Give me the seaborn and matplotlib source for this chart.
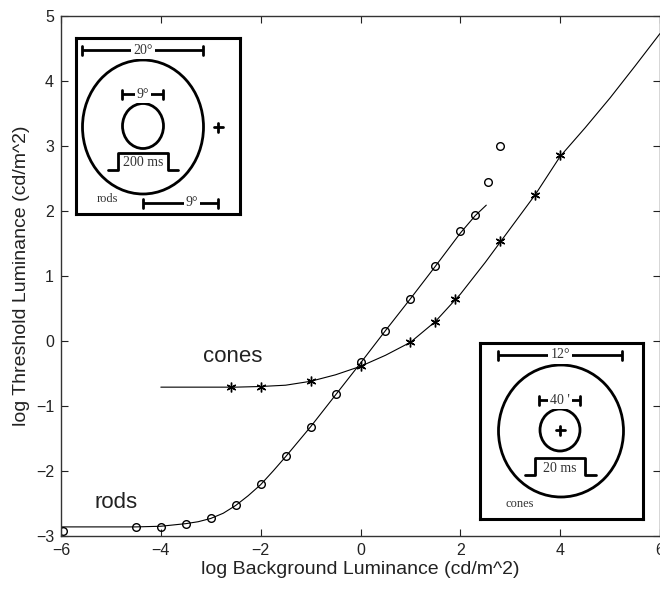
import matplotlib
matplotlib.use("Agg")
import matplotlib.pyplot as plt
import seaborn as sns
from matplotlib.patches import Ellipse

# Rod branch: fitted threshold-versus-intensity curve and measured thresholds
rod_curve_x = [-6, -5, -4.5, -4, -3.5, -3.25, -3, -2.75, -2.5, -2.25, -2, -1.75,
               -1.5, -1, -0.5, 0, 0.5, 1, 1.5, 2, 2.3, 2.52]
rod_curve_y = [-2.86, -2.86, -2.86, -2.85, -2.81, -2.78, -2.73, -2.65, -2.53, -2.38,
               -2.21, -2.00, -1.78, -1.32, -0.83, -0.34, 0.16, 0.65, 1.15, 1.66, 1.93, 2.09]
rod_x = [-5.95, -4.5, -4, -3.5, -3, -2.5, -2, -1.5, -1, -0.5, 0, 0.5, 1, 1.5, 2, 2.3, 2.55, 2.8]
rod_y = [-2.92, -2.86, -2.86, -2.82, -2.73, -2.52, -2.2, -1.77, -1.32, -0.82, -0.33,
         0.16, 0.65, 1.15, 1.69, 1.94, 2.45, 3.0]

# Cone branch
cone_curve_x = [-4, -3, -2.5, -2, -1.5, -1, -0.5, 0, 0.5, 1, 1.5, 2, 2.5, 3, 3.5,
                4, 4.5, 5, 5.5, 6]
cone_curve_y = [-0.71, -0.71, -0.71, -0.70, -0.68, -0.62, -0.52, -0.39, -0.22, -0.02,
                0.30, 0.72, 1.21, 1.73, 2.25, 2.84, 3.28, 3.74, 4.23, 4.73]
cone_x = [-2.6, -2, -1, 0, 1, 1.5, 1.9, 2.8, 3.5, 4.0]
cone_y = [-0.71, -0.71, -0.62, -0.39, -0.02, 0.29, 0.65, 1.54, 2.25, 2.86]

x_ticks = [-6, -4, -2, 0, 2, 4, 6]
y_ticks = [-3, -2, -1, 0, 1, 2, 3, 4, 5]

sns.set_theme(style="ticks")
plt.rcParams["font.family"] = ["Liberation Sans", "DejaVu Sans"]

W, H = 660, 589
fig = plt.figure(figsize=(W / 100, H / 100), dpi=100)
fig.patch.set_facecolor("white")
ax = fig.add_axes([61 / W, 1 - 536 / H, 599 / W, 520 / H])

line_kw = dict(color="black", lw=0.8, estimator=None, sort=False, ax=ax)
sns.lineplot(x=rod_curve_x, y=rod_curve_y, **line_kw)
sns.lineplot(x=cone_curve_x, y=cone_curve_y, **line_kw)
sns.lineplot(x=rod_x, y=rod_y, ls="none", marker="o", ms=5.5, mfc="none", mec="black",
             mew=1.0, estimator=None, sort=False, ax=ax)
sns.lineplot(x=cone_x, y=cone_y, ls="none", marker=(6, 2, 0), ms=7, mec="black",
             mew=1.0, color="black", estimator=None, sort=False, ax=ax)

ax.set_xlim(-6, 6)
ax.set_ylim(-3, 5)
ax.set_xticks(x_ticks)
ax.set_yticks(y_ticks)
ax.tick_params(direction="in", length=5, width=0.8, top=True, right=True,
               labelsize=11.5, colors="#222222", pad=5)
for s in ax.spines.values():
    s.set_color("#333333")
    s.set_linewidth(1.0)
ax.set_xlabel("log Background Luminance (cd/m^2)", fontsize=14, color="#222222", labelpad=2)
ax.set_ylabel("log Threshold Luminance (cd/m^2)", fontsize=14, color="#222222", labelpad=4)

ax.text(-3.16, -0.32, "cones", fontsize=16, color="#222222", va="baseline", ha="left")
ax.text(-5.32, -2.57, "rods", fontsize=16, color="#222222", va="baseline", ha="left")


def dim_bar(iax, x0, x1, y, label, lx):
    iax.plot([x0, x1], [y, y], color="black", lw=2, solid_capstyle="butt")
    iax.plot([x0, x0], [y - 4.5, y + 4.5], color="black", lw=2)
    iax.plot([x1, x1], [y - 4.5, y + 4.5], color="black", lw=2)
    iax.text(lx, y, label, ha="center", va="center", fontsize=10, family="Liberation Serif",
             color="#333333", bbox=dict(fc="white", ec="none", pad=1.5))


def pulse(iax, xs, y0, y1, label, cx):
    iax.plot([xs[0], xs[1], xs[1], xs[2], xs[2], xs[3]], [y0, y0, y1, y1, y0, y0],
             color="black", lw=2)
    iax.text(cx, (y0 + y1) / 2 + 1.5, label, ha="center", va="center", fontsize=10,
             family="Liberation Serif", color="#333333")


def plus(iax, x, y):
    iax.plot([x - 4.5, x + 4.5], [y, y], color="black", lw=2)
    iax.plot([x, x], [y - 4.5, y + 4.5], color="black", lw=2)


def inset(left, top, w, h):
    iax = fig.add_axes([left / W, 1 - (top + h) / H, w / W, h / H])
    iax.set_xlim(0, w)
    iax.set_ylim(h, 0)
    iax.set_xticks([])
    iax.set_yticks([])
    iax.set_facecolor("white")
    for s in iax.spines.values():
        s.set_color("black")
        s.set_linewidth(2.2)
    return iax


# Rod stimulus configuration
r = inset(76, 38, 164, 176)
dim_bar(r, 6, 127, 12, "20°", 67)
r.add_patch(Ellipse((67, 89), 121, 134, fill=False, ec="black", lw=2))
dim_bar(r, 46, 87, 56, "9°", 67)
r.add_patch(Ellipse((67, 88), 41, 45, fill=False, ec="black", lw=2))
pulse(r, [32, 42, 92, 102], 132, 115, "200 ms", 67)
plus(r, 142, 89)
r.text(21, 161, "rods", ha="left", va="center", fontsize=9, family="Liberation Serif",
       color="#333333")
dim_bar(r, 67, 142, 165, "9°", 116)

# Cone stimulus configuration
c = inset(480, 343, 163, 176)
dim_bar(c, 18, 142, 12, "12°", 80)
c.add_patch(Ellipse((81, 88), 125, 132, fill=False, ec="black", lw=2))
dim_bar(c, 59, 100, 57, "40 '", 80)
c.add_patch(Ellipse((80, 87), 40, 42, fill=False, ec="black", lw=2))
plus(c, 80, 87)
pulse(c, [45, 55, 105, 116], 132, 115, "20 ms", 80)
c.text(25, 161, "cones", ha="left", va="center", fontsize=9, family="Liberation Serif",
       color="#333333")

fig.savefig("out.png", dpi=100, facecolor="white")
